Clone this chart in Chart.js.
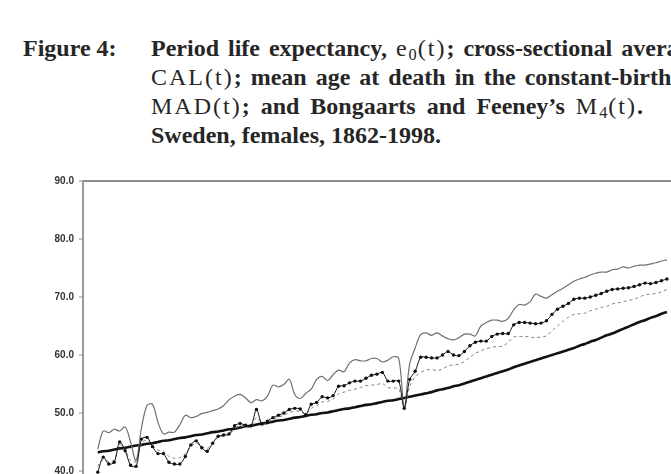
<!DOCTYPE html>
<html>
<head>
<meta charset="utf-8">
<script src="https://cdn.jsdelivr.net/npm/chart.js@4.4.1/dist/chart.umd.min.js"></script>
<style>
  html, body { margin: 0; padding: 0; background: #fff; }
  body { width: 671px; height: 474px; overflow: hidden; position: relative; }
  #cap { position: absolute; top: 34px; left: 0; width: 671px; white-space: nowrap;
         font-family: "Liberation Serif", "Times New Roman", serif; font-weight: bold;
         font-size: 24px; line-height: 29px; color: #262626; }
  #cap .fig { position: absolute; left: 23px; top: 0; }
  #cap .txt { position: absolute; left: 151px; top: 0; }
  #cap .m { font-weight: normal; letter-spacing: 2px; word-spacing: 0; }
  #cap sub { font-size: 0.68em; vertical-align: -0.25em; line-height: 0; letter-spacing: 1px; }
  #cap .l1, #cap .l2 { word-spacing: 3px; }
  #cap .l3 { word-spacing: 5px; }
  #wrap { position: absolute; left: 0; top: 170px; width: 863px; height: 370px; }
</style>
</head>
<body>
<div id="cap">
  <div class="fig">Figure 4:</div>
  <div class="txt">
    <div class="l1">Period life expectancy, <span class="m">e<sub>0</sub>(t)</span>; cross-sectional average length of life,</div>
    <div class="l2"><span class="m">CAL(t)</span>; mean age at death in the constant-birth population,</div>
    <div class="l3"><span class="m">MAD(t)</span>; and Bongaarts and Feeney’s <span class="m">M<sub>4</sub>(t)</span>.</div>
    <div>Sweden, females, 1862-1998.</div>
  </div>
</div>
<div id="wrap"><canvas id="chart"></canvas></div>
<script>
// years shown in the cropped figure (1862 onwards)
const years = [];
for (let y = 1862; y <= 1966; y++) years.push(y);

// period life expectancy e0(t)
const e0 = [
  43.8, 46.9, 46.6, 47.2, 46.9, 47.6, 45.0, 41.8, 47.5, 51.3,
  51.5, 48.4, 46.4, 46.7, 46.7, 48.0, 49.6, 49.2, 49.4, 49.9,
  50.1, 50.4, 50.7, 51.3, 52.3, 52.9, 53.2, 52.6, 51.8, 52.3,
  52.1, 52.9, 54.8, 54.5, 54.9, 55.8, 53.2, 52.5, 53.4, 54.1,
  55.8, 56.3, 55.6, 56.6, 57.4, 57.1, 58.6, 59.2, 59.0, 59.0,
  59.4, 59.4, 58.8, 59.1, 59.7, 59.4, 51.0, 58.5, 61.2, 63.5,
  63.8, 63.4, 63.8, 63.3, 62.8, 62.6, 63.0, 63.6, 63.6, 63.3,
  65.0, 65.6, 66.0, 66.0, 65.8, 66.3, 67.8, 68.7, 68.6, 69.2,
  70.5, 70.1, 69.8, 70.4, 71.0, 71.5, 72.1, 72.7, 73.1, 73.4,
  73.8, 74.1, 74.3, 74.3, 74.7, 74.8, 75.2, 75.0, 75.3, 75.5,
  75.5, 75.7, 75.9, 76.2, 76.4
];

// cross-sectional average length of life CAL(t)
const cal = [
  43.2, 43.4, 43.5, 43.7, 43.9, 44.0, 44.2, 44.4, 44.5, 44.7,
  44.8, 45.0, 45.2, 45.3, 45.5, 45.7, 45.8, 46.0, 46.2, 46.3,
  46.5, 46.7, 46.8, 47.0, 47.2, 47.3, 47.5, 47.7, 47.8, 48.0,
  48.2, 48.3, 48.5, 48.7, 48.8, 49.0, 49.2, 49.3, 49.5, 49.7,
  49.8, 50.0, 50.1, 50.3, 50.5, 50.7, 50.8, 51.0, 51.2, 51.4,
  51.5, 51.7, 51.9, 52.1, 52.2, 52.4, 52.6, 52.8, 53.0, 53.2,
  53.4, 53.6, 53.9, 54.1, 54.3, 54.6, 54.8, 55.1, 55.4, 55.7,
  56.0, 56.3, 56.6, 56.9, 57.2, 57.5, 57.9, 58.2, 58.5, 58.8,
  59.1, 59.4, 59.7, 60.0, 60.3, 60.6, 60.9, 61.2, 61.6, 61.9,
  62.3, 62.6, 63.0, 63.4, 63.7, 64.1, 64.5, 64.9, 65.3, 65.7,
  66.0, 66.4, 66.7, 67.1, 67.4
];

// mean age at death MAD(t)
const mad = [
  39.8, 42.4, 41.2, 41.5, 45.0, 43.5, 41.0, 40.8, 45.5, 45.8,
  44.2, 43.0, 43.0, 41.5, 41.2, 41.2, 42.5, 44.5, 45.2, 44.0,
  43.4, 44.8, 46.0, 46.2, 46.4, 47.8, 48.2, 47.9, 47.8, 50.6,
  48.1, 48.6, 49.2, 49.6, 50.0, 50.6, 50.8, 50.7, 49.7, 51.5,
  51.8, 52.8, 52.6, 53.0, 54.6, 54.7, 55.2, 55.5, 55.5, 56.0,
  56.5, 56.7, 57.0, 55.5, 55.5, 55.5, 50.8, 55.8, 57.2, 59.6,
  59.6, 59.5, 59.5, 60.0, 60.6, 60.0, 59.9, 60.6, 61.6, 62.2,
  62.4, 62.4, 63.2, 63.6, 63.7, 63.7, 65.2, 65.6, 65.6, 65.5,
  65.4, 65.5, 65.9, 67.0, 67.9, 68.4, 68.9, 69.6, 69.8, 69.8,
  70.0, 70.3, 70.6, 71.0, 71.3, 71.4, 71.5, 71.6, 71.8, 72.1,
  72.4, 72.3, 72.5, 72.8, 73.1
];

// Bongaarts and Feeney's M4(t)
const m4 = [
  40.8, 42.0, 41.6, 41.9, 44.5, 43.6, 41.8, 41.6, 44.8, 45.3,
  44.4, 43.6, 43.4, 42.5, 42.2, 42.3, 43.0, 44.2, 44.8, 44.2,
  43.9, 44.8, 45.8, 46.0, 46.2, 47.3, 47.7, 47.6, 47.6, 49.2,
  48.2, 48.4, 48.9, 49.3, 49.6, 50.1, 50.3, 50.3, 49.8, 50.8,
  51.2, 51.9, 52.0, 52.4, 53.3, 53.6, 53.9, 54.1, 54.4, 54.7,
  54.8, 54.9, 55.1, 54.4, 54.3, 54.2, 50.9, 54.6, 56.2, 57.0,
  57.4, 57.5, 57.3, 57.6, 58.1, 58.3, 58.4, 58.9, 59.6, 60.3,
  60.7, 61.1, 61.3, 61.5, 61.5, 62.2, 63.1, 63.2, 63.2, 63.1,
  63.0, 63.1, 63.3, 64.2, 65.0, 65.8, 66.5, 67.0, 67.1, 67.2,
  67.6, 67.9, 68.2, 68.4, 68.8, 69.0, 69.2, 69.4, 69.6, 70.0,
  70.4, 70.5, 70.6, 70.9, 71.3
];

const yTicks = [30, 40, 50, 60, 70, 80, 90];

const pts = arr => years.map((yr, i) => ({ x: yr, y: arr[i] }));

new Chart(document.getElementById('chart'), {
  type: 'line',
  data: {
    datasets: [
      { label: 'MAD(t)', data: pts(mad), borderColor: '#111', borderWidth: 1,
        pointRadius: 1.7, pointBackgroundColor: '#111', pointBorderWidth: 0,
        tension: 0.3 },
      { label: 'M4(t)', data: pts(m4), borderColor: '#808080', borderWidth: 1,
        borderDash: [3, 3], pointRadius: 0, tension: 0.3 },
      { label: 'e0(t)', data: pts(e0), borderColor: '#707070', borderWidth: 1.2,
        pointRadius: 0, tension: 0.35 },
      { label: 'CAL(t)', data: pts(cal), borderColor: '#111', borderWidth: 2.6,
        pointRadius: 0, tension: 0.3 }
    ]
  },
  options: {
    responsive: true,
    maintainAspectRatio: false,
    animation: false,
    layout: { padding: { top: 11, bottom: 9.8, left: 0, right: 0 } },
    plugins: { legend: { display: false }, tooltip: { enabled: false } },
    scales: {
      x: {
        type: 'linear', min: 1859.3, max: 2001.1, display: false
      },
      y: {
        min: 30, max: 90,
        afterFit: s => { s.width = 83; },
        afterBuildTicks: s => { s.ticks = yTicks.map(v => ({ value: v })); },
        border: { color: '#999', width: 2 },
        grid: {
          color: c => (c.tick && c.tick.value === 90) ? '#8c8c8c' : 'rgba(0,0,0,0)',
          lineWidth: 2,
          tickColor: '#8c8c8c',
          tickLength: 4,
          tickWidth: 1
        },
        ticks: {
          padding: 5,
          color: '#333',
          font: { family: 'Liberation Sans, Arial, sans-serif', size: 10, weight: 'bold' },
          callback: v => v.toFixed(1)
        }
      }
    }
  }
});
</script>
</body>
</html>
